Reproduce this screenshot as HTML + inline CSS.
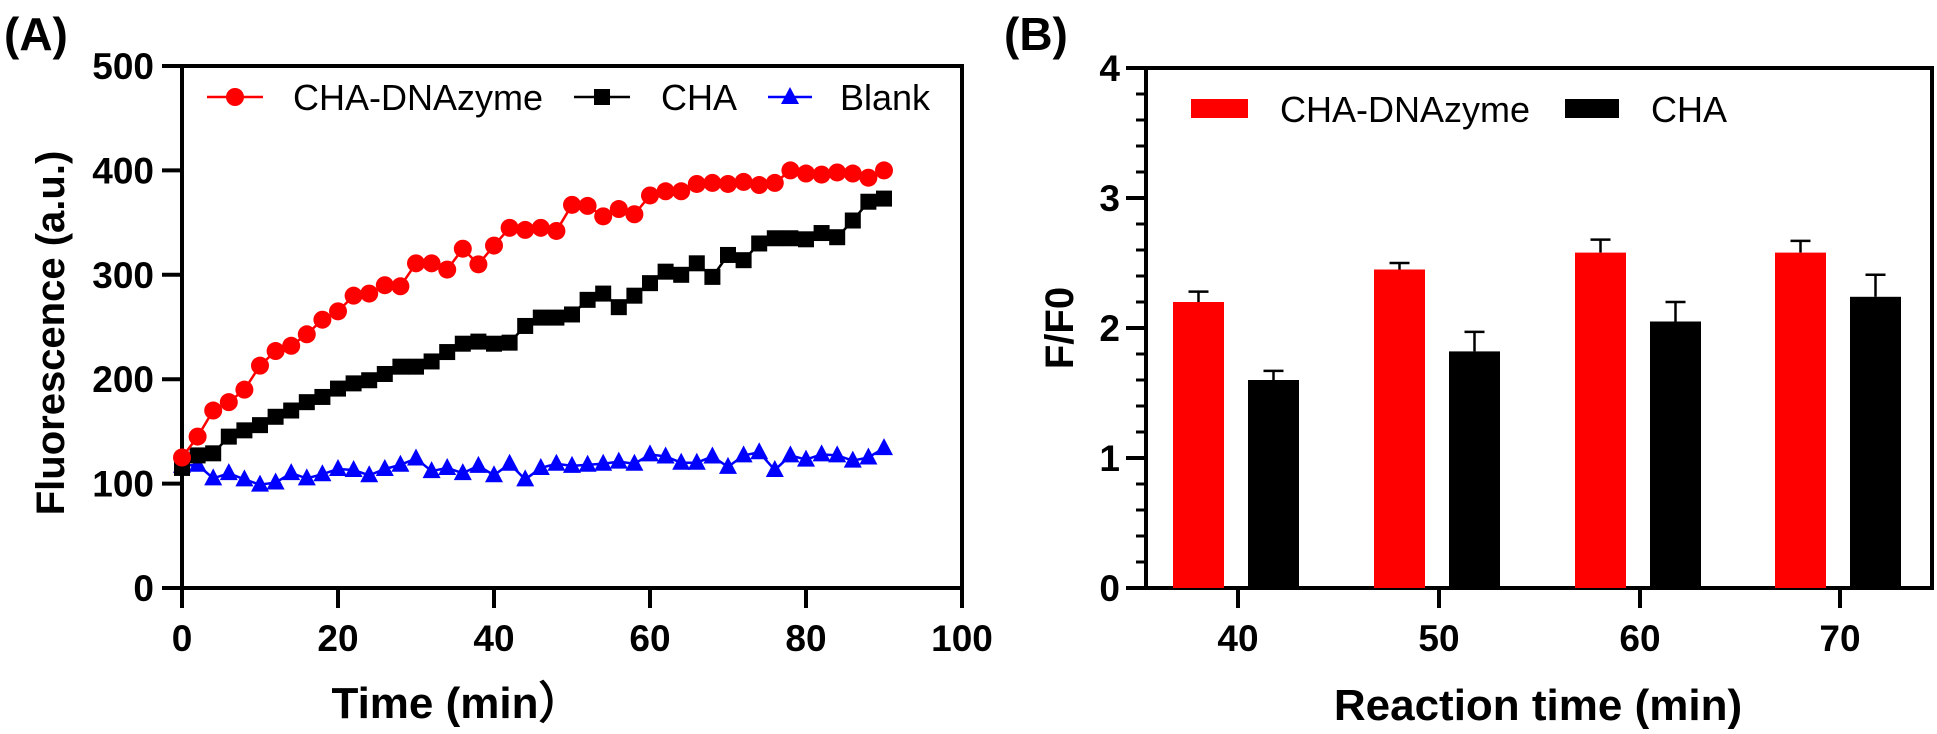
<!DOCTYPE html>
<html><head><meta charset="utf-8"><style>
html,body{margin:0;padding:0;background:#fff;}
svg{display:block;font-family:"Liberation Sans",Arial,sans-serif;}
</style></head><body>
<svg id="s" width="1937" height="734" viewBox="0 0 1937 734" xmlns="http://www.w3.org/2000/svg">
<text x="4" y="50" font-size="46" font-weight="bold">(A)</text>
<text x="1004" y="50" font-size="46" font-weight="bold">(B)</text>
<g id="A"></g><g id="B"></g>
</svg>
<script>
const NS="http://www.w3.org/2000/svg";
function el(p,t,a,txt){const e=document.createElementNS(NS,t);for(const k in a)e.setAttribute(k,a[k]);if(txt!==undefined)e.textContent=txt;p.appendChild(e);return e;}
const A=document.getElementById('A');
const X=t=>182+t*7.8, Y=v=>588-v*1.044;
el(A,'rect',{x:182,y:66,width:780,height:522,fill:'none',stroke:'#000','stroke-width':4});
for(let v=0;v<=500;v+=100){el(A,'line',{x1:162,x2:182,y1:Y(v),y2:Y(v),stroke:'#000','stroke-width':4});
 el(A,'text',{x:154,y:Y(v)+13,'font-size':37,'font-weight':'bold','text-anchor':'end'},v);}
for(let t=0;t<=100;t+=20){el(A,'line',{x1:X(t),x2:X(t),y1:588,y2:608,stroke:'#000','stroke-width':4});
 el(A,'text',{x:X(t),y:651,'font-size':37,'font-weight':'bold','text-anchor':'middle'},t);}
el(A,'text',{x:457,y:718,'font-size':44,'font-weight':'bold','text-anchor':'middle'},'Time (min）');
el(A,'text',{x:64,y:333,'font-size':40,'font-weight':'bold','text-anchor':'middle',transform:'rotate(-90 64 333)'},'Fluorescence (a.u.)');
const red=[125,145,170,178,190,213,227,232,243,257,265,280,282,290,289,311,311,305,325,310,328,345,343,345,342,367,366,356,363,358,376,380,380,387,388,387,389,386,388,400,397,396,398,397,393,400];
const blk=[115,127,129,145,151,156,164,170,178,183,191,196,199,205,212,212,217,226,234,236,234,235,251,259,259,262,276,282,269,280,292,303,300,311,298,319,314,330,335,335,334,340,336,352,370,373];
const blu=[117,118,105,110,104,99,101,110,105,109,114,113,108,114,118,124,112,115,110,117,108,119,104,115,119,117,118,119,121,119,128,126,120,120,126,116,127,130,113,127,123,128,127,122,125,134];
function series(d,col,mk){const pts=d.map((v,i)=>X(i*2)+','+Y(v)).join(' ');
 el(A,'polyline',{points:pts,fill:'none',stroke:col,'stroke-width':2.5});
 d.forEach((v,i)=>mk(X(i*2),Y(v)));}
const tri=(x,y,c)=>el(A,'polygon',{points:`${x},${y-10} ${x-9},${y+7} ${x+9},${y+7}`,fill:c});
series(blu,'#0000ff',(x,y)=>tri(x,y,'#0000ff'));
series(blk,'#000',(x,y)=>el(A,'rect',{x:x-8,y:y-8,width:16,height:16,fill:'#000'}));
series(red,'#ff0000',(x,y)=>el(A,'circle',{cx:x,cy:y,r:9,fill:'#ff0000'}));
el(A,'line',{x1:207,x2:263,y1:97,y2:97,stroke:'#ff0000','stroke-width':2.5});el(A,'circle',{cx:235,cy:97,r:9,fill:'#ff0000'});
el(A,'text',{x:293,y:110,'font-size':36},'CHA-DNAzyme');
el(A,'line',{x1:574,x2:630,y1:97,y2:97,stroke:'#000','stroke-width':2.5});el(A,'rect',{x:594,y:89,width:16,height:16,fill:'#000'});
el(A,'text',{x:661,y:110,'font-size':36},'CHA');
el(A,'line',{x1:768,x2:812,y1:97,y2:97,stroke:'#0000ff','stroke-width':2.5});tri(790,97,'#0000ff');
el(A,'text',{x:840,y:110,'font-size':36},'Blank');
const B=document.getElementById('B');
const YB=v=>588-v*130;
el(B,'rect',{x:1146,y:68,width:786,height:520,fill:'none',stroke:'#000','stroke-width':4});
for(let i=0;i<=20;i++){const v=i*0.2;const maj=i%5==0;
 el(B,'line',{x1:maj?1126:1136,x2:1146,y1:YB(v),y2:YB(v),stroke:'#000','stroke-width':maj?4:3});
 if(maj)el(B,'text',{x:1120,y:YB(v)+13,'font-size':37,'font-weight':'bold','text-anchor':'end'},v);}
const cx=[1238,1439,1640,1840],labs=[40,50,60,70];
const rv=[2.2,2.45,2.58,2.58],re=[2.28,2.5,2.68,2.67],bv=[1.6,1.82,2.05,2.24],be=[1.67,1.97,2.2,2.41];
cx.forEach((c,i)=>{
 el(B,'line',{x1:c,x2:c,y1:588,y2:608,stroke:'#000','stroke-width':4});
 el(B,'text',{x:c,y:651,'font-size':37,'font-weight':'bold','text-anchor':'middle'},labs[i]);
 const rx=c-65,bx=c+10,w=51;
 el(B,'line',{x1:rx+w/2,x2:rx+w/2,y1:YB(rv[i]),y2:YB(re[i]),stroke:'#000','stroke-width':2.5});
 el(B,'line',{x1:rx+w/2-10,x2:rx+w/2+10,y1:YB(re[i]),y2:YB(re[i]),stroke:'#000','stroke-width':2.5});
 el(B,'rect',{x:rx,y:YB(rv[i]),width:w,height:588-YB(rv[i]),fill:'#ff0000'});
 el(B,'line',{x1:bx+w/2,x2:bx+w/2,y1:YB(bv[i]),y2:YB(be[i]),stroke:'#000','stroke-width':2.5});
 el(B,'line',{x1:bx+w/2-10,x2:bx+w/2+10,y1:YB(be[i]),y2:YB(be[i]),stroke:'#000','stroke-width':2.5});
 el(B,'rect',{x:bx,y:YB(bv[i]),width:w,height:588-YB(bv[i]),fill:'#000'});
});
el(B,'rect',{x:1191,y:99,width:57,height:19,fill:'#ff0000'});
el(B,'text',{x:1280,y:122,'font-size':36},'CHA-DNAzyme');
el(B,'rect',{x:1565,y:99,width:54,height:19,fill:'#000'});
el(B,'text',{x:1651,y:122,'font-size':36},'CHA');
el(B,'text',{x:1538,y:720,'font-size':44,'font-weight':'bold','text-anchor':'middle'},'Reaction time (min)');
el(B,'text',{x:1073,y:328,'font-size':40,'font-weight':'bold','text-anchor':'middle',transform:'rotate(-90 1073 328)'},'F/F0');
</script>
</body></html>
